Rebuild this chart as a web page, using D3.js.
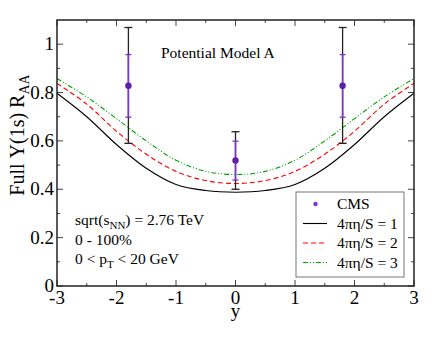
<!DOCTYPE html>
<html>
<head>
<meta charset="utf-8">
<script src="https://cdn.jsdelivr.net/npm/d3@7"></script>
<style>
  body { margin: 0; background: #fff; }
  svg, svg text, svg tspan { font-family: 'Liberation Serif', 'DejaVu Serif', serif !important; }
</style>
</head>
<body>
<div id="chart"></div>
<script>
// rapidity grid for the model curves
let rapidity = [-3, -2.5, -2, -1.5, -1, -0.5, 0, 0.5, 1, 1.5, 2, 2.5, 3];

// 4 pi eta / S = 1, 2, 3
let raaEta1 = [0.797, 0.700, 0.585, 0.487, 0.420, 0.395, 0.388, 0.395, 0.420, 0.487, 0.585, 0.700, 0.797];
let raaEta2 = [0.838, 0.752, 0.640, 0.545, 0.474, 0.436, 0.424, 0.436, 0.474, 0.545, 0.640, 0.752, 0.838];
let raaEta3 = [0.858, 0.782, 0.692, 0.600, 0.520, 0.474, 0.461, 0.474, 0.520, 0.600, 0.692, 0.782, 0.858];

// CMS points
let cmsY = [-1.8, 0, 1.8];
let cmsRaa = [0.828, 0.519, 0.828];
let cmsStatLo = [0.698, 0.438, 0.698];
let cmsStatHi = [0.957, 0.599, 0.957];
let cmsTotLo = [0.590, 0.400, 0.590];
let cmsTotHi = [1.069, 0.638, 1.069];

let xTicks = [-3, -2, -1, 0, 1, 2, 3];
let yTicks = [0, 0.2, 0.4, 0.6, 0.8, 1];

let svgWidth = 436;
let svgHeight = 337;
let margin = { top: 20, right: 22, bottom: 51, left: 57 };
let width = svgWidth - margin.left - margin.right;
let height = svgHeight - margin.top - margin.bottom;

let svg = d3.select('#chart')
    .append('svg')
    .attr('width', svgWidth)
    .attr('height', svgHeight)
    .style('font-family', 'Liberation Serif, DejaVu Serif, serif');

let g = svg.append('g')
    .attr('transform', `translate(${margin.left}, ${margin.top})`);

let x = d3.scaleLinear().domain([-3, 3]).range([0, width]);
let y = d3.scaleLinear().domain([0, 1.1]).range([height, 0]);

// ticks pointing inward on all four sides
let xMinor = d3.range(-2.5, 3, 1);
let yMinor = d3.range(0.1, 1.1, 0.2);
let tg = g.append('g').attr('stroke', '#444').attr('stroke-width', 1);
[[xTicks, 6], [xMinor, 3]].forEach(([vals, len]) => {
    vals.forEach(v => {
        tg.append('line').attr('x1', x(v)).attr('x2', x(v)).attr('y1', height).attr('y2', height - len);
        tg.append('line').attr('x1', x(v)).attr('x2', x(v)).attr('y1', 0).attr('y2', len);
    });
});
[[yTicks, 6], [yMinor, 3]].forEach(([vals, len]) => {
    vals.forEach(v => {
        tg.append('line').attr('y1', y(v)).attr('y2', y(v)).attr('x1', 0).attr('x2', len);
        tg.append('line').attr('y1', y(v)).attr('y2', y(v)).attr('x1', width).attr('x2', width - len);
    });
});

// tick labels
g.selectAll('.xl').data(xTicks).enter().append('text')
    .attr('x', d => x(d)).attr('y', height + 18)
    .attr('text-anchor', 'middle').attr('font-size', 19)
    .text(d => d);
g.selectAll('.yl').data(yTicks).enter().append('text')
    .attr('x', -3).attr('y', d => y(d) + 6)
    .attr('text-anchor', 'end').attr('font-size', 19)
    .text(d => d);

// axis titles
g.append('text')
    .attr('x', width / 2).attr('y', height + 31)
    .attr('text-anchor', 'middle').attr('font-size', 19)
    .text('y');
let yt = svg.append('text')
    .attr('transform', 'translate(24, 135) rotate(-90)')
    .attr('text-anchor', 'middle').attr('font-size', 20);
yt.append('tspan').text('Full \u03A5(1s) R');
yt.append('tspan').attr('font-size', 14).attr('dy', 5).text('AA');

// model curves
let line = d3.line()
    .x(d => x(d[0]))
    .y(d => y(d[1]))
    .curve(d3.curveCatmullRom.alpha(0.5));

let curves = [
    { vals: raaEta1, color: '#000', dash: null },
    { vals: raaEta2, color: '#ff0000', dash: '5,3' },
    { vals: raaEta3, color: '#00a000', dash: '5,2,1,2,1,2' }
];
curves.forEach(c => {
    g.append('path')
        .datum(rapidity.map((r, i) => [r, c.vals[i]]))
        .attr('d', line)
        .attr('fill', 'none')
        .attr('stroke', c.color)
        .attr('stroke-width', 1.1)
        .attr('stroke-dasharray', c.dash);
});

// CMS error bars: total (black) then stat (purple)
let purple = '#7a35cc';
cmsY.forEach((cy, i) => {
    let cx = x(cy);
    g.append('line').attr('x1', cx).attr('x2', cx)
        .attr('y1', y(cmsTotLo[i])).attr('y2', y(cmsTotHi[i]))
        .attr('stroke', '#222').attr('stroke-width', 1.3);
    [cmsTotLo[i], cmsTotHi[i]].forEach(v => {
        g.append('line').attr('x1', cx - 4).attr('x2', cx + 4)
            .attr('y1', y(v)).attr('y2', y(v))
            .attr('stroke', '#222').attr('stroke-width', 1.3);
    });
    g.append('line').attr('x1', cx).attr('x2', cx)
        .attr('y1', y(cmsStatLo[i])).attr('y2', y(cmsStatHi[i]))
        .attr('stroke', purple).attr('stroke-width', 1.6);
    [cmsStatLo[i], cmsStatHi[i]].forEach(v => {
        g.append('line').attr('x1', cx - 3).attr('x2', cx + 3)
            .attr('y1', y(v)).attr('y2', y(v))
            .attr('stroke', purple).attr('stroke-width', 1.3);
    });
    g.append('circle').attr('cx', cx).attr('cy', y(cmsRaa[i]))
        .attr('r', 3.2).attr('fill', '#5c1fa8');
});

// frame
g.append('rect').attr('width', width).attr('height', height)
    .attr('fill', 'none').attr('stroke', '#222').attr('stroke-width', 1.5);

// annotations
g.append('text').attr('x', 104).attr('y', 38)
    .attr('font-size', 15.5).text('Potential Model A');

let ann = g.append('g').attr('font-size', 15.5);
let a1 = ann.append('text').attr('x', 18).attr('y', 205);
a1.append('tspan').text('sqrt(s');
a1.append('tspan').attr('font-size', 11).attr('dy', 4).text('NN');
a1.append('tspan').attr('dy', -4).text(') = 2.76 TeV');
ann.append('text').attr('x', 18).attr('y', 225).text('0 - 100%');
let a3 = ann.append('text').attr('x', 18).attr('y', 244);
a3.append('tspan').text('0 < p');
a3.append('tspan').attr('font-size', 11).attr('dy', 4).text('T');
a3.append('tspan').attr('dy', -4).text(' < 20 GeV');

// legend
let lg = g.append('g').attr('transform', `translate(${296 - margin.left}, ${192 - margin.top})`);
lg.append('rect').attr('width', 108).attr('height', 85)
    .attr('fill', '#fff').attr('stroke', '#777').attr('stroke-width', 1);
let legendItems = [
    { label: 'CMS', type: 'dot' },
    { label: '4\u03C0\u03B7/S = 1', color: '#000', dash: null },
    { label: '4\u03C0\u03B7/S = 2', color: '#ff0000', dash: '5,3' },
    { label: '4\u03C0\u03B7/S = 3', color: '#00a000', dash: '5,2,1,2,1,2' }
];
legendItems.forEach((d, i) => {
    let ly = 12 + i * 19.5;
    if (d.type === 'dot') {
        lg.append('circle').attr('cx', 19.5).attr('cy', ly).attr('r', 2.2).attr('fill', purple);
    } else {
        lg.append('line').attr('x1', 7).attr('x2', 31).attr('y1', ly).attr('y2', ly)
            .attr('stroke', d.color).attr('stroke-width', 1.1)
            .attr('stroke-dasharray', d.dash);
    }
    lg.append('text').attr('x', 41).attr('y', ly + 5)
        .attr('font-size', 15.5).text(d.label);
});
</script>
</body>
</html>
